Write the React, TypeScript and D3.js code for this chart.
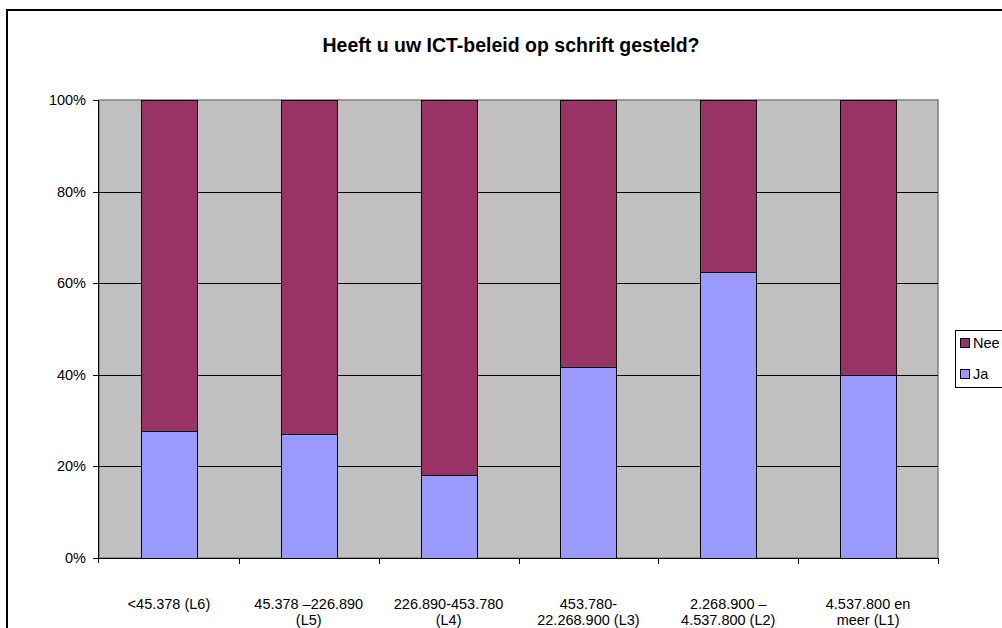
import { useEffect } from "react";
import * as d3 from "d3";

const categories = ["L6", "L5", "L4", "L3", "L2", "L1"];
const categoryLines = [
  ["<45.378 (L6)"],
  ["45.378 –226.890", "(L5)"],
  ["226.890-453.780", "(L4)"],
  ["453.780-", "22.268.900 (L3)"],
  ["2.268.900 –", "4.537.800 (L2)"],
  ["4.537.800 en", "meer (L1)"],
];
const jaValues = [27.8, 27.0, 18.2, 41.7, 62.5, 40.0];
const neeValues = [72.2, 73.0, 81.8, 58.3, 37.5, 60.0];
const yTicks = [0, 20, 40, 60, 80, 100];

const series = [
  { key: "Ja", values: jaValues, color: "#9999FF" },
  { key: "Nee", values: neeValues, color: "#993366" },
];

const W = 1002;
const H = 628;
const plot = { left: 99, right: 938, top: 100, bottom: 558 };
const font = "'Liberation Sans', Arial, sans-serif";

export default function App() {
  useEffect(() => {
    document.body.style.margin = "0";
  }, []);

  const x = d3
    .scaleBand<string>()
    .domain(categories)
    .range([plot.left, plot.right])
    .paddingInner(0.6)
    .paddingOuter(0.3);
  const band = d3.scaleBand<string>().domain(categories).range([plot.left, plot.right]);
  const y = d3.scaleLinear().domain([0, 100]).range([plot.bottom, plot.top]);

  // stack the two series per category
  const rows = categories.map((c, i) => ({ cat: c, Ja: jaValues[i], Nee: neeValues[i] }));
  const stacked = d3.stack<any>().keys(series.map((s) => s.key))(rows);

  return (
    <svg width={W} height={H} style={{ display: "block" }} fontFamily={font}>
      <rect x={0} y={0} width={W} height={H} fill="#fff" />
      <rect x={7} y={10} width={W} height={H} fill="#fff" stroke="#000" strokeWidth={2} />
      <text x={511} y={52} textAnchor="middle" fontSize={19.5} fontWeight="bold" fill="#000">
        Heeft u uw ICT-beleid op schrift gesteld?
      </text>

      {/* plot area */}
      <rect
        x={plot.left}
        y={plot.top}
        width={plot.right - plot.left}
        height={plot.bottom - plot.top}
        fill="#C0C0C0"
        stroke="#808080"
        strokeWidth={1.5}
      />
      {yTicks
        .filter((t) => t > 0 && t < 100)
        .map((t) => (
          <line
            key={t}
            x1={plot.left}
            x2={plot.right}
            y1={Math.round(y(t)) + 0.5}
            y2={Math.round(y(t)) + 0.5}
            stroke="#000"
            strokeWidth={1}
          />
        ))}

      {/* bars */}
      {stacked.map((layer, si) =>
        layer.map((d, i) => (
          <rect
            key={`${si}-${i}`}
            x={Math.round(x(categories[i]) || 0) + 0.5}
            y={Math.round(y(d[1])) + 0.5}
            width={Math.round(x.bandwidth())}
            height={Math.round(y(d[0])) - Math.round(y(d[1]))}
            fill={series[si].color}
            stroke="#000"
            strokeWidth={1}
          />
        ))
      )}

      {/* y axis */}
      <line x1={plot.left - 0.5} x2={plot.left - 0.5} y1={plot.top} y2={plot.bottom + 5} stroke="#000" />
      {yTicks.map((t) => (
        <g key={t}>
          <line
            x1={plot.left - 6}
            x2={plot.left}
            y1={Math.round(y(t)) + 0.5}
            y2={Math.round(y(t)) + 0.5}
            stroke="#000"
          />
          <text x={plot.left - 13} y={y(t)} dy="0.35em" textAnchor="end" fontSize={14.5} fill="#000">
            {`${t}%`}
          </text>
        </g>
      ))}

      {/* x axis */}
      <line x1={plot.left - 6} x2={plot.right} y1={plot.bottom + 0.5} y2={plot.bottom + 0.5} stroke="#000" />
      {categories.map((c) => (
        <line
          key={`tk-${c}`}
          x1={Math.round((band(c) || 0) + band.bandwidth()) + 0.5}
          x2={Math.round((band(c) || 0) + band.bandwidth()) + 0.5}
          y1={plot.bottom}
          y2={plot.bottom + 6}
          stroke="#000"
        />
      ))}
      {categories.map((c, i) => (
        <text
          key={`lb-${c}`}
          x={(band(c) || 0) + band.bandwidth() / 2}
          y={609}
          textAnchor="middle"
          fontSize={14.5}
          fill="#000"
        >
          {categoryLines[i].map((line, j) => (
            <tspan key={j} x={(band(c) || 0) + band.bandwidth() / 2} dy={j === 0 ? 0 : 16}>
              {line}
            </tspan>
          ))}
        </text>
      ))}

      {/* legend */}
      <rect x={955.5} y={330.5} width={60} height={57} fill="#fff" stroke="#000" />
      {[series[1], series[0]].map((s, i) => (
        <g key={s.key} transform={`translate(960, ${338 + i * 31})`}>
          <rect x={0.5} y={0.5} width={9} height={9} fill={s.color} stroke="#000" />
          <text x={13} y={5} dy="0.35em" fontSize={14.5} fill="#000">
            {s.key}
          </text>
        </g>
      ))}
    </svg>
  );
}
